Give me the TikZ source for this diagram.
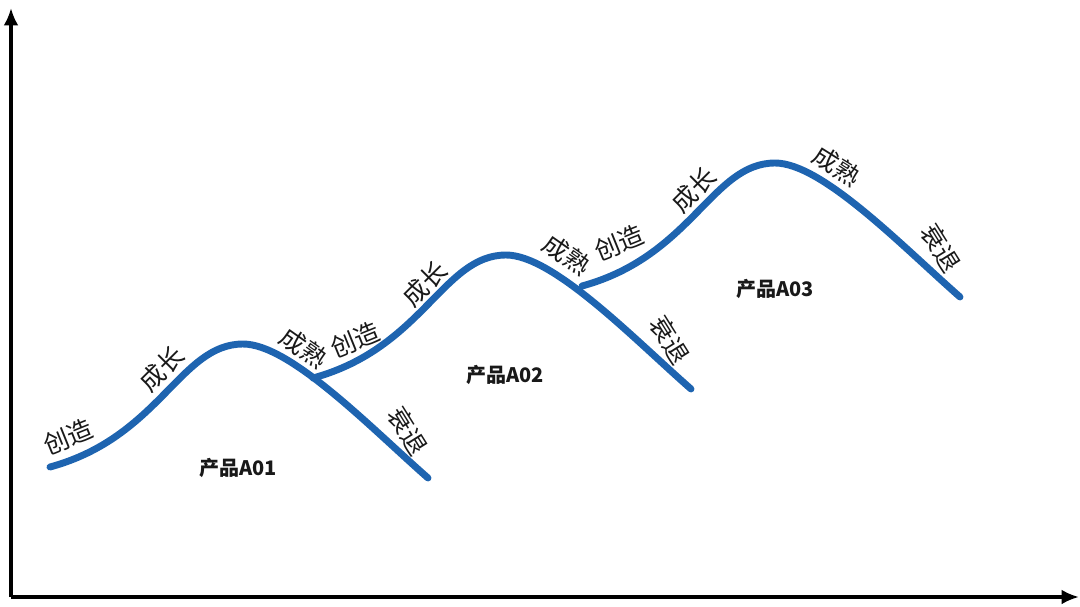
\documentclass[tikz,border=0pt]{standalone}
\usepackage{fontspec}
\setmainfont{Noto Sans CJK SC}
\usetikzlibrary{arrows.meta}
\definecolor{curveblue}{RGB}{30,100,176}
\definecolor{labelgray}{RGB}{25,25,25}
\tikzset{
  axis/.style={line width=2.3pt, -{Latex[length=13pt,width=11pt]}},
  lifecurve/.style={line width=5.2pt, curveblue, line cap=round},
  stage/.style={font=\fontsize{19}{19}\selectfont, text=labelgray, inner sep=0pt},
  prodlabel/.style={font=\fontsize{15}{15}\selectfont\bfseries, text=labelgray, inner sep=0pt},
}
\begin{document}
\begin{tikzpicture}[x=0.75pt,y=-0.75pt]
\useasboundingbox (0,0) rectangle (1080,606);
% axes
\coordinate (O) at (11,597);
\coordinate (ytop) at (11,8);
\coordinate (xend) at (1079,597);
\draw[axis] (O) -- (ytop);
\draw[axis] (O) -- (xend);
% curves
\draw[lifecurve,shift={(50,467)}] (0,0) .. controls (110,-30) and (130,-123) .. (193,-123) .. controls (240,-123) and (320,-40) .. (378,11);
\draw[lifecurve,shift={(313,378)}] (0,0) .. controls (110,-30) and (130,-123) .. (193,-123) .. controls (240,-123) and (320,-40) .. (378,11);
\draw[lifecurve,shift={(582,286)}] (0,0) .. controls (110,-30) and (130,-123) .. (193,-123) .. controls (240,-123) and (320,-40) .. (378,11);
% labels curve 1
\node[stage,rotate=22] (c1a) at (68,437) {创造};
\node[stage,rotate=45] (c1b) at (162,369) {成长};
\node[stage,rotate=-35] (c1c) at (304,348) {成熟};
\node[stage,rotate=22] (c1d) at (355,340) {创造};
\node[stage,rotate=-58] (c1e) at (408,431) {衰退};
\node[prodlabel] (p1) at (238,468) {产品A01};
% labels curve 2
\node[stage,rotate=45] (c2b) at (425,284) {成长};
\node[stage,rotate=-35] (c2c) at (567,255) {成熟};
\node[stage,rotate=22] (c2d) at (619,243) {创造};
\node[stage,rotate=-58] (c2e) at (670,340) {衰退};
\node[prodlabel] (p2) at (505,375) {产品A02};
% labels curve 3
\node[stage,rotate=45] (c3b) at (694,190) {成长};
\node[stage,rotate=-32] (c3c) at (837,166) {成熟};
\node[stage,rotate=-58] (c3e) at (941,248) {衰退};
\node[prodlabel] (p3) at (775,289) {产品A03};
\end{tikzpicture}
\end{document}
